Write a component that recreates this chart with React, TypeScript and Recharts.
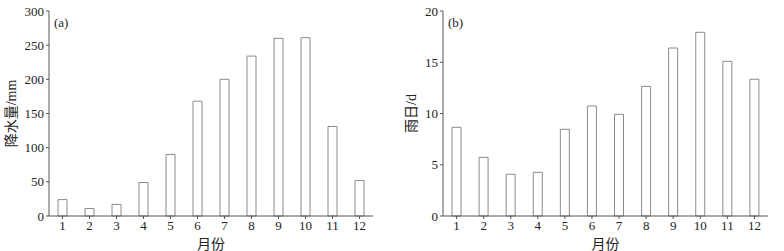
import React from "react";
import { BarChart, Bar, XAxis, YAxis, Label } from "recharts";

const months = ["1", "2", "3", "4", "5", "6", "7", "8", "9", "10", "11", "12"];
const precipitation = [24, 11, 17, 49, 90, 168, 200, 234, 260, 261, 131, 52];
const rainDays = [8.65, 5.72, 4.07, 4.26, 8.46, 10.73, 9.92, 12.65, 16.39, 17.92, 15.09, 13.34];
const precipTicks = [0, 50, 100, 150, 200, 250, 300];
const dayTicks = [0, 5, 10, 15, 20];

const dataA = months.map((m, i) => ({ m, v: precipitation[i] }));
const dataB = months.map((m, i) => ({ m, v: rainDays[i] }));

const FONT = "'Liberation Serif', 'Times New Roman', 'Noto Sans CJK SC', serif";
const AXIS = "#555";
const tickStyle = { fontSize: 13, fill: "#222", fontFamily: FONT };

function Panel(props: {
  data: { m: string; v: number }[];
  ticks: number[];
  max: number;
  ylabel: string;
  tag: string;
  yWidth: number;
  right: number;
  left: number;
  labelX: number;
}) {
  const { data, ticks, max, ylabel, tag, yWidth, right, left, labelX } = props;
  const w = 392;
  const renderYLabel = (p: any) => {
    const vb = p.viewBox || {};
    const cy = (vb.y ?? 11) + (vb.height ?? 205) / 2;
    return (
      <text
        x={labelX}
        y={cy}
        transform={`rotate(-90 ${labelX} ${cy})`}
        textAnchor="middle"
        dominantBaseline="central"
        style={{ fontSize: 14, fill: "#222", fontFamily: FONT }}
      >
        {ylabel}
      </text>
    );
  };
  return (
    <div style={{ position: "absolute", left, top: 0, width: w, height: 251 }}>
      <BarChart
        width={w}
        height={251}
        data={data}
        margin={{ top: 11, right, bottom: 0, left: 0 }}
        barCategoryGap={0}
      >
        <XAxis
          dataKey="m"
          height={35}
          stroke={AXIS}
          tick={tickStyle}
          tickLine={{ stroke: AXIS }}
          tickSize={3}
          interval={0}
        >
          <Label value="月份" position="insideBottom" offset={2} style={{ fontSize: 14, fill: "#222", fontFamily: FONT }} />
        </XAxis>
        <XAxis xAxisId="top" orientation="top" dataKey="m" height={0} tick={false} tickLine={false} stroke={AXIS} />
        <YAxis
          domain={[0, max]}
          ticks={ticks}
          width={yWidth}
          stroke={AXIS}
          tick={tickStyle}
          tickLine={{ stroke: AXIS }}
          tickSize={3}
          interval={0}
        >
          <Label content={renderYLabel} />
        </YAxis>
        <YAxis yAxisId="r" orientation="right" domain={[0, max]} width={0} tick={false} tickLine={false} stroke={AXIS} />
        <Bar dataKey="v" fill="#fff" stroke="#8a8a8a" strokeWidth={1} barSize={9} isAnimationActive={false} />
      </BarChart>
      <span
        style={{
          position: "absolute",
          left: yWidth + 5,
          top: 15,
          fontSize: 13,
          fontFamily: FONT,
          color: "#222",
        }}
      >
        {tag}
      </span>
    </div>
  );
}

export default function App() {
  return (
    <div style={{ position: "absolute", left: 0, top: 0, width: 784, height: 251, background: "#fff" }}>
      <Panel data={dataA} ticks={precipTicks} max={300} ylabel="降水量/mm" tag="(a)" yWidth={49} right={19} left={0} labelX={11} />
      <Panel data={dataB} ticks={dayTicks} max={20} ylabel="雨日/d" tag="(b)" yWidth={51} right={16} left={392} labelX={19} />
    </div>
  );
}
